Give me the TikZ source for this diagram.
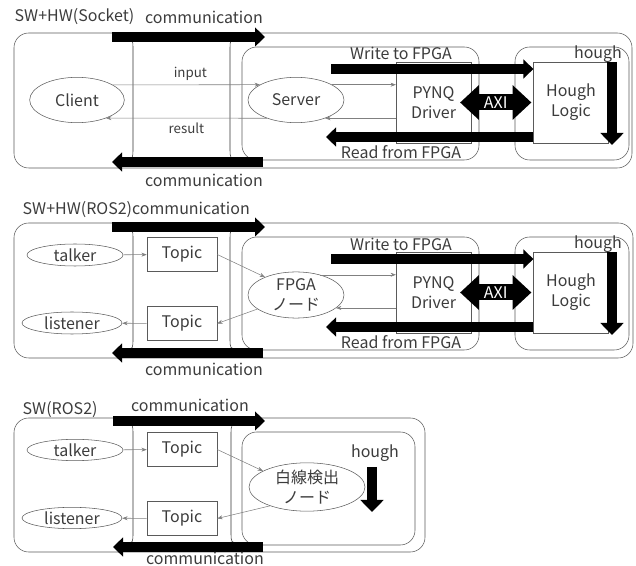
\documentclass[tikz,border=0pt]{standalone}
\usepackage{fontspec}
\setmainfont{Noto Sans CJK JP}
\usepackage{xcolor}
\usepackage{tikz}
\usetikzlibrary{arrows.meta,shapes.geometric}
\definecolor{txtgray}{HTML}{3C3C3C}
\definecolor{linegray}{HTML}{5A5A5A}

\begin{document}
\begin{tikzpicture}[x=0.75pt,y=-0.75pt,
  every node/.style={text=txtgray,font=\fontsize{12}{15}\selectfont},
  frame/.style={draw=linegray,rounded corners=11pt},
  wall/.style={draw=black!80},
  proc/.style={draw=linegray,ellipse,inner sep=0pt,align=center},
  topicbox/.style={draw=linegray,rectangle,inner sep=0pt,minimum width=52.5pt,minimum height=25.5pt},
  hwbox/.style={draw=linegray,rectangle,align=center,inner sep=0pt,minimum width=56pt,minimum height=61pt},
  msg/.style={draw=gray,-{Stealth[length=4pt,width=3pt]}},
  fat/.style={line width=7.5pt,-{Triangle[length=7.5pt,width=14pt]}},
  axi/.style={line width=12pt,{Triangle[length=14pt,width=25pt]}-{Triangle[length=14pt,width=25pt]}},
  down/.style={line width=7.5pt,-{Triangle[length=9pt,width=17pt]}},
  small/.style={font=\fontsize{10}{12}\selectfont}]
\useasboundingbox (0,0) rectangle (636,566);

% SW+HW(Socket)
\node[anchor=west] (t1) at (10,17) {SW+HW(Socket)};
\node (c1top) at (204,17) {communication};
\draw[frame] (14,33) rectangle (632,168);
\draw[wall] (126,39) .. controls (133,39) .. (133,50) -- (133,148) .. controls (133,159) .. (126,159);
\draw[wall] (239,39) .. controls (230,39) .. (230,50) -- (230,148) .. controls (230,159) .. (239,159);
\draw[frame] (242,47) rectangle (479,160);
\draw[frame] (515,47) rectangle (629,160);
\node[proc,minimum width=71pt,minimum height=34pt] (client) at (77,100) {Client};
\node[proc,minimum width=72pt,minimum height=34pt] (server) at (296,100) {Server};
\node[hwbox] (pynq1) at (433.5,102.5) {PYNQ\\Driver};
\node[hwbox] (logic1) at (571,102.5) {Hough\\Logic};
\draw[msg] (client.23) -- node[above=0pt,small,xshift=3pt]{input} (server.157);
\draw[msg] (server.-148) -- node[below=0pt,small]{result} (client.-32);
\draw[msg] (server.23) -- (server.23 -| pynq1.west);
\draw[msg] (server.-32 -| pynq1.west) -- (server.-32);
\coordinate (ct1) at (112,37);
\coordinate (ch1) at (265,37);
\draw[fat] (ct1) -- (ch1);
\coordinate (cb1) at (263,162);
\coordinate (cl1) at (112,162);
\draw[fat] (cb1) -- (cl1);
\node (c1bot) at (204,180) {communication};
\coordinate (w1) at (331,69);
\draw[fat] (w1) -- (w1 -| logic1.west);
\coordinate (r1) at (326,137);
\draw[fat] (r1 -| logic1.west) -- (r1);
\node (wl1) at (401,53) {Write to FPGA};
\node (rl1) at (401,152) {Read from FPGA};
\draw[axi] ([xshift=-8.25pt]pynq1.east) -- node[text=white]{AXI} ([xshift=-1.5pt]logic1.west);
\coordinate (h1a) at (612,62);
\coordinate (h1b) at (612,145);
\draw[down] (h1a) -- (h1b);
\node (hl1) at (598,54) {hough};

% SW+HW(ROS2)
\node[anchor=west] (t2) at (18,210) {SW+HW(ROS2)communication};
\draw[frame] (14,223) rectangle (633,358);
\draw[wall] (126,229) .. controls (133,229) .. (133,240) -- (133,338) .. controls (133,349) .. (126,349);
\draw[wall] (239,229) .. controls (230,229) .. (230,240) -- (230,338) .. controls (230,349) .. (239,349);
\draw[frame] (242,237) rectangle (479,350);
\draw[frame] (515,237) rectangle (629,350);
\node[proc,minimum width=72pt,minimum height=16.5pt] (talker2) at (75,255) {talker};
\node[proc,minimum width=75pt,minimum height=16.5pt] (listener2) at (72,323) {listener};
\node[topicbox] (topic2a) at (182,254.5) {Topic};
\node[topicbox] (topic2b) at (182,323.5) {Topic};
\node[proc,minimum width=72pt,minimum height=34.5pt] (fpga) at (296,295) {FPGA\\ノード};
\node[hwbox] (pynq2) at (433.5,292.5) {PYNQ\\Driver};
\node[hwbox] (logic2) at (571,292.5) {Hough\\Logic};
\draw[msg] (talker2) -- (topic2a);
\draw[msg] (topic2a.east) -- (fpga.150);
\draw[msg] (fpga.200) -- (topic2b.east);
\draw[msg] (topic2b) -- (listener2);
\draw[msg] (fpga.40) -- (fpga.40 -| pynq2.west);
\draw[msg] (fpga.-18 -| pynq2.west) -- (fpga.-18);
\coordinate (ct2) at (112,227);
\coordinate (ch2) at (265,227);
\draw[fat] (ct2) -- (ch2);
\coordinate (cb2) at (263,353);
\coordinate (cl2) at (112,353);
\draw[fat] (cb2) -- (cl2);
\node (c2bot) at (204,369) {communication};
\coordinate (w2) at (331,259);
\draw[fat] (w2) -- (w2 -| logic2.west);
\coordinate (r2) at (326,327);
\draw[fat] (r2 -| logic2.west) -- (r2);
\node (wl2) at (401,244) {Write to FPGA};
\node (rl2) at (401,342) {Read from FPGA};
\draw[axi] ([xshift=-8.25pt]pynq2.east) -- node[text=white]{AXI} ([xshift=-1.5pt]logic2.west);
\coordinate (h2a) at (612,252);
\coordinate (h2b) at (612,335);
\draw[down] (h2a) -- (h2b);
\node (hl2) at (598,244) {hough};

% SW(ROS2)
\node[anchor=west] (t3) at (18,410) {SW(ROS2)};
\node (c3top) at (190,405) {communication};
\draw[frame] (14,418) rectangle (425,552);
\draw[wall] (126,424) .. controls (133,424) .. (133,435) -- (133,532) .. controls (133,543) .. (126,543);
\draw[wall] (240,424) .. controls (231,424) .. (231,435) -- (231,532) .. controls (231,543) .. (240,543);
\draw[frame] (242,432) rectangle (415,545);
\node[proc,minimum width=72pt,minimum height=16pt] (talker3) at (75,450) {talker};
\node[proc,minimum width=75pt,minimum height=16pt] (listener3) at (72,518) {listener};
\node[topicbox] (topic3a) at (182,449.5) {Topic};
\node[topicbox] (topic3b) at (182,518.5) {Topic};
\node[proc,minimum width=87pt,minimum height=35pt] (detect) at (307,487) {白線検出\\ノード};
\draw[msg] (talker3) -- (topic3a);
\draw[msg] (topic3a.east) -- (detect.160);
\draw[msg] (detect.207) -- (topic3b.east);
\draw[msg] (topic3b) -- (listener3);
\coordinate (ct3) at (113,421);
\coordinate (ch3) at (265,421);
\draw[fat] (ct3) -- (ch3);
\coordinate (cb3) at (263,547);
\coordinate (cl3) at (113,547);
\draw[fat] (cb3) -- (cl3);
\node (c3bot) at (205,558) {communication};
\coordinate (h3a) at (372,467);
\coordinate (h3b) at (372,512);
\draw[down] (h3a) -- (h3b);
\node (hl3) at (375,453) {hough};
\end{tikzpicture}
\end{document}
